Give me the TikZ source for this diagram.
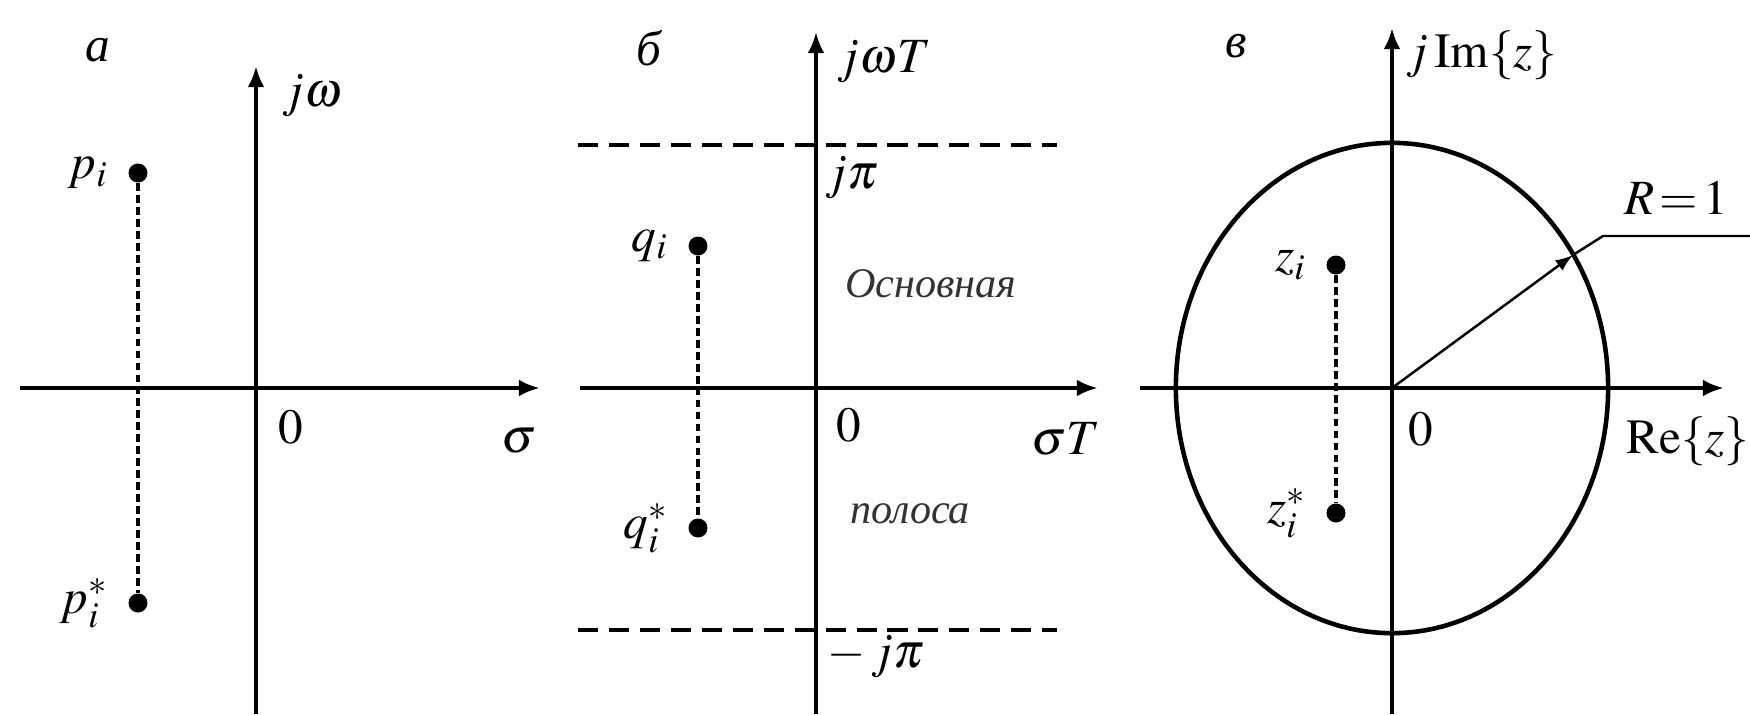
\documentclass[tikz,border=0pt]{standalone}
\usepackage{mathptmx}
\usepackage[no-math]{fontspec}
\setmainfont{Liberation Serif}
\usetikzlibrary{arrows.meta,positioning,calc}

\begin{document}
\begin{tikzpicture}[x=0.01cm,y=-0.01cm,font=\fontsize{14}{16}\selectfont,
  axis/.style={line width=1.4pt,-{Latex[length=6pt,width=4.8pt]}},
  pole/.style={circle,fill,inner sep=0pt,minimum size=5.4pt},
  conj/.style={line width=1pt,dash pattern=on 2.2pt off 1.2pt},
  band/.style={line width=1.1pt,dash pattern=on 5.7pt off 3.1pt},
  word/.style={font=\fontsize{12}{14}\selectfont\itshape,text=black!80}]
\useasboundingbox (0,0) rectangle (1750,714);

\coordinate (oa) at (256,388);
\draw[axis] (20,388) -- (540,388);
\draw[axis] (256,714) -- (256,66);
\node[pole] (p) at (138,173) {};
\node[pole] (pc) at (138,603) {};
\draw[conj] (p) -- (pc);
\node[left=2pt of p] (plab) {$p_i$};
\node[left=2pt of pc] (pclab) {$p_i^*$};
\node (lbla) at (98,50) {\textit{а}};
\node (jw) at (312,96) {$j\omega$};
\node (za) at (291,427) {$0$};
\node (sig) at (519,441) {$\sigma$};

\coordinate (ob) at (816,388);
\draw[axis] (580,388) -- (1098,388);
\draw[axis] (816,714) -- (816,32);
\draw[band] (578,145) -- (1057,145);
\draw[band] (578,630) -- (1057,630);
\node[pole] (q) at (698,246) {};
\node[pole] (qc) at (698,528) {};
\draw[conj] (q) -- (qc);
\node[left=2pt of q] (qlab) {$q_i$};
\node[left=2pt of qc] (qclab) {$q_i^*$};
\node (lblb) at (650,48) {\textit{б}};
\node (jwt) at (884,62) {$j\omega T$};
\node (jpi) at (852,178) {$j\pi$};
\node (mjpi) at (876,657) {$-\,j\pi$};
\node (zb) at (849,425) {$0$};
\node (sigt) at (1066,439) {$\sigma T$};
\node[word] (osn) at (931,284) {Основная};
\node[word] (pol) at (910,514) {полоса};

\coordinate (oc) at (1392,388);
\draw[axis] (1140,388) -- (1724,388);
\draw[axis] (1392,714) -- (1392,28);
\draw[line width=1.3pt] (oc) ellipse [x radius=2.16cm, y radius=2.45cm];
\node[pole] (z) at (1336,265) {};
\node[pole] (zc) at (1336,513) {};
\draw[conj] (z) -- (zc);
\node[left=2pt of z] (zlab) {$z_i$};
\node[left=2pt of zc] (zclab) {$z_i^*$};
\node (lblc) at (1236,46) {\textit{в}};
\node (jim) at (1482,55) {$j\,\mathrm{Im}\{z\}$};
\node (zc0) at (1421,429) {$0$};
\node (re) at (1688,441) {$\mathrm{Re}\{z\}$};
\coordinate (rim) at (1573,255);
\coordinate (knee) at (1603,236);
\coordinate (tail) at (1750,236);
\draw[line width=0.7pt,-{Latex[length=5pt,width=3.6pt]}] (oc) -- (rim);
\draw[line width=0.7pt] (rim) -- (knee) -- (tail);
\node (rad) at (1676,198) {$R\,{=}\,1$};
\end{tikzpicture}
\end{document}
